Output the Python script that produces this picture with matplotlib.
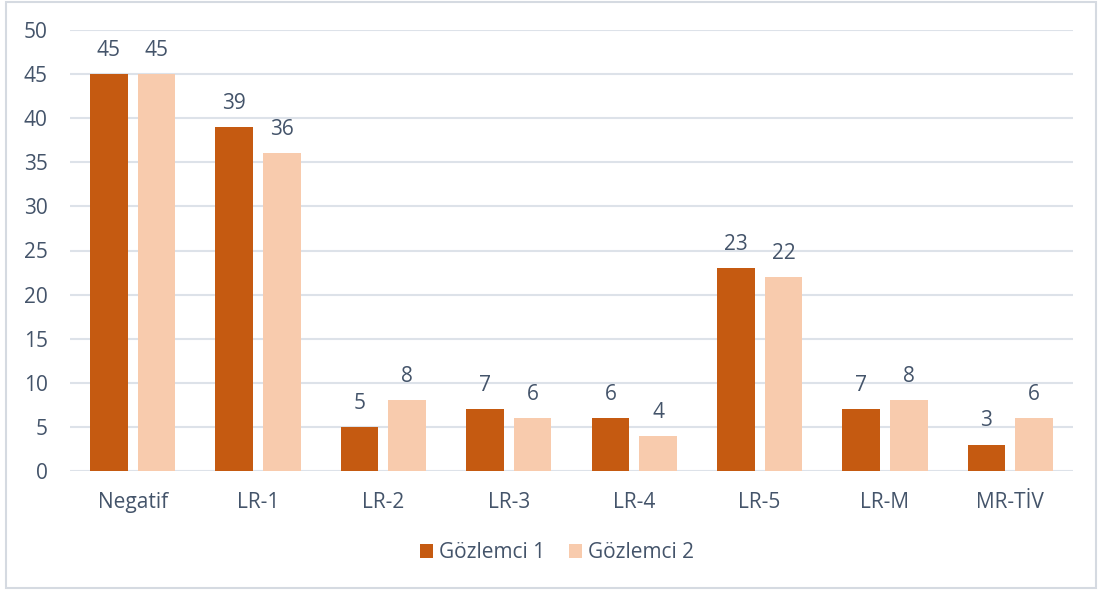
import matplotlib
matplotlib.use("Agg")
import matplotlib.pyplot as plt
import numpy as np
from matplotlib.patches import Rectangle

categories = ["Negatif", "LR-1", "LR-2", "LR-3", "LR-4", "LR-5", "LR-M", "MR-TİV"]
gozlemci_1 = [45, 39, 5, 7, 6, 23, 7, 3]
gozlemci_2 = [45, 36, 8, 6, 4, 22, 8, 6]
series_names = ["Gözlemci 1", "Gözlemci 2"]

dark = "#C55A11"
light = "#F8CBAD"
text_col = "#44546A"
grid_col = "#DDE2E9"
fs = 15

plt.rcParams["font.family"] = ["Open Sans", "DejaVu Sans"]

fig = plt.figure(figsize=(11.03, 5.96), dpi=100)
# outer frame of the chart area
frame = Rectangle((6 / 1103, 8 / 596), 1090 / 1103, 586 / 596,
                  transform=fig.transFigure, facecolor="white",
                  edgecolor="#D5DAE1", linewidth=1.5, zorder=-10)
fig.patches.append(frame)

ax = fig.add_axes([70 / 1103, 125 / 596, 1003 / 1103, 441 / 596])
ax.set_facecolor("none")

x = np.arange(len(categories))
w = 0.30
off = 0.19
b1 = ax.bar(x - off, gozlemci_1, w, color=dark, label=series_names[0], zorder=3)
b2 = ax.bar(x + off, gozlemci_2, w, color=light, label=series_names[1], zorder=3)

for bars in (b1, b2):
    for rect in bars:
        h = rect.get_height()
        ax.annotate(f"{h:g}", (rect.get_x() + rect.get_width() / 2, h),
                    xytext=(0, 17), textcoords="offset points",
                    ha="center", va="center", fontsize=fs, color=text_col)

ax.set_xlim(-0.5, len(categories) - 0.5)
ax.set_ylim(0, 50)
ax.set_yticks(range(0, 51, 5))
ax.set_xticks(x)
ax.set_xticklabels(categories)
ax.grid(axis="y", color=grid_col, linewidth=1.5, zorder=0)
ax.tick_params(length=0, labelsize=fs, colors=text_col)
ax.tick_params(axis="x", pad=15)
ax.tick_params(axis="y", pad=16)
for s in ax.spines.values():
    s.set_visible(False)

fig.legend(handles=[b1, b2], loc="center", bbox_to_anchor=(557 / 1103, 1 - 553 / 596),
           ncol=2, frameon=False, fontsize=fs, labelcolor=text_col,
           handlelength=0.65, handleheight=0.65, handletextpad=0.3, columnspacing=1.1)

fig.savefig("out.png", dpi=100)
